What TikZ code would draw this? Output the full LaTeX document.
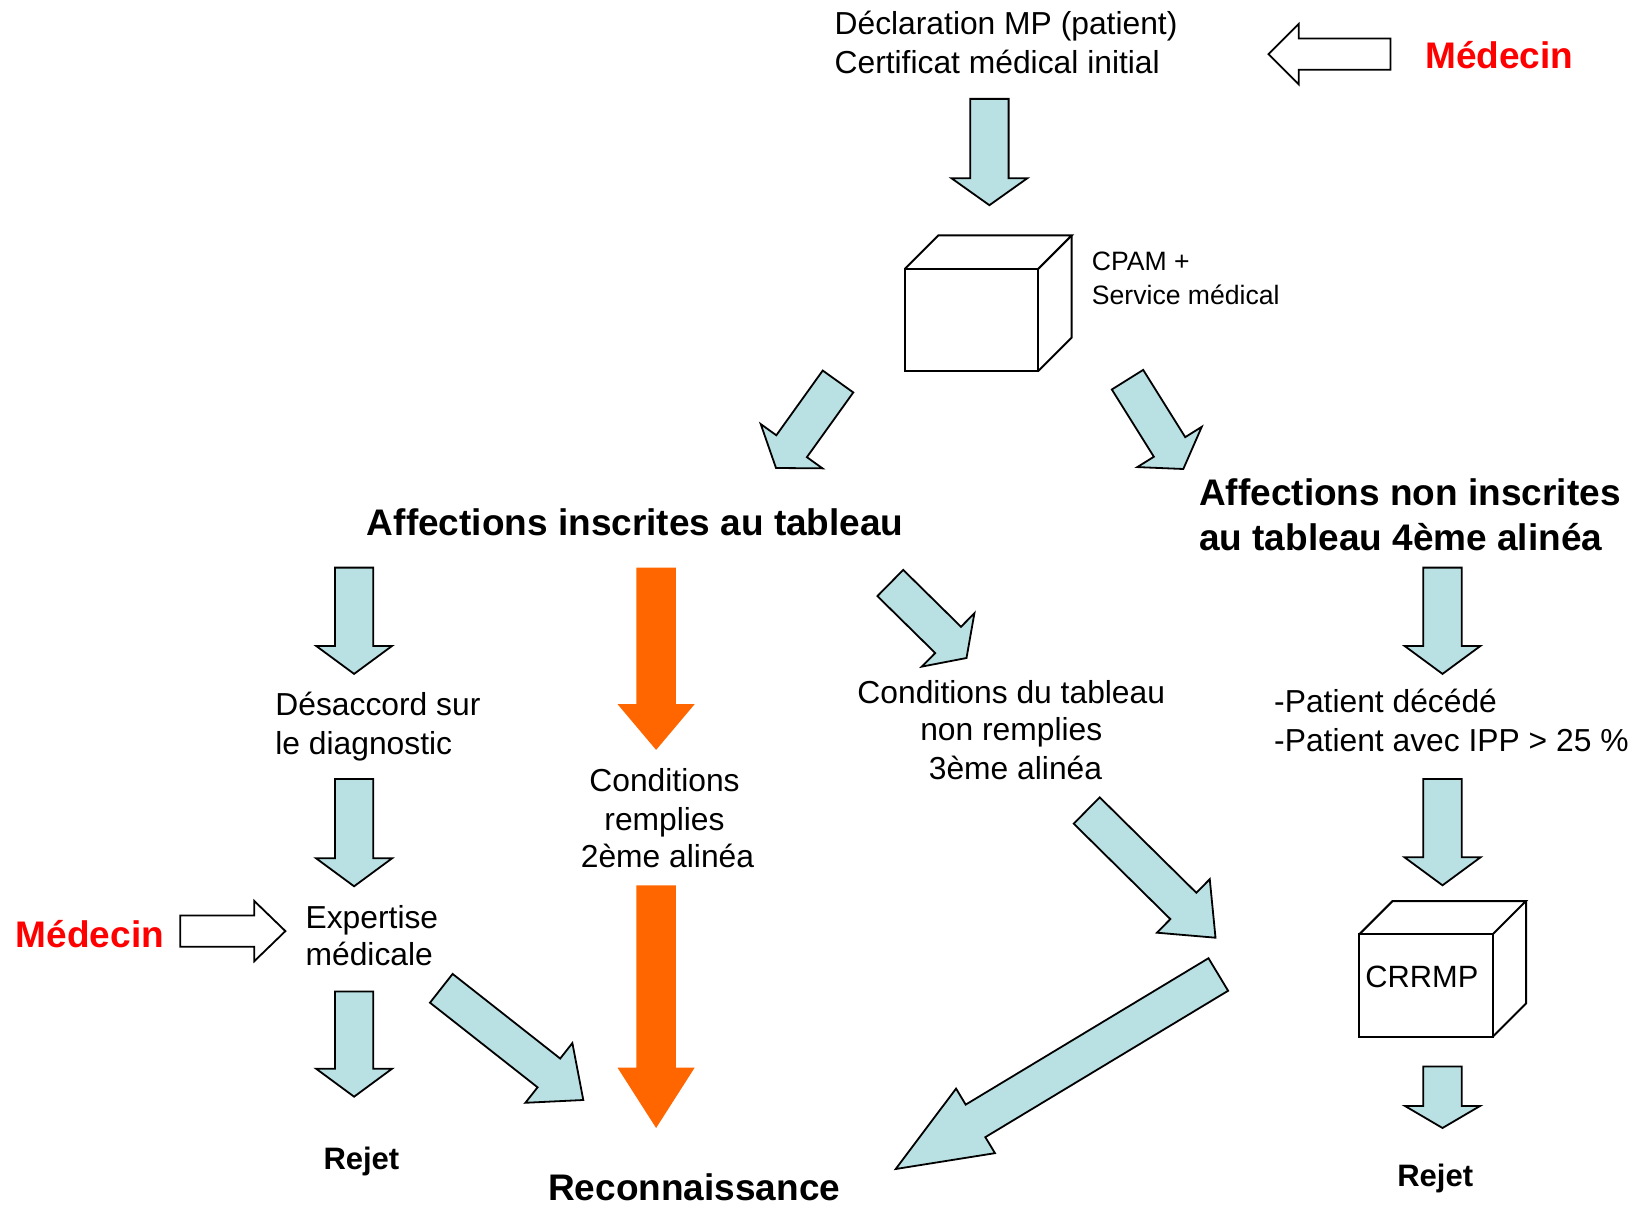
\documentclass[tikz,border=0pt]{standalone}
\usepackage{fontspec}
\setmainfont{Liberation Sans}
\usetikzlibrary{calc}
\definecolor{lblue}{HTML}{B9E0E3}
\definecolor{orng}{HTML}{FF6600}
\definecolor{medred}{HTML}{FF0000}
% #1 style, #2 tail coordinate, #3 tip coordinate, #4 shaft half width, #5 head half width, #6 head length
\newcommand\blockarrow[6]{%
  \path ($(#3)!#6!(#2)$) coordinate (hb);
  \draw[#1] ($(#2)!#4!90:(#3)$) -- ($(hb)!#4!-90:(#2)$) -- ($(hb)!#5!-90:(#2)$) -- (#3)
    -- ($(hb)!#5!90:(#2)$) -- ($(hb)!#4!90:(#2)$) -- ($(#2)!#4!-90:(#3)$) -- cycle;
}
% #1 name, #2 left x, #3 top y, #4 right x, #5 bottom y, #6 depth
\newcommand\cubebox[6]{%
  \coordinate (#1) at (#2,#3);
  \draw[cubeline] (#2,#3) rectangle (#4,#5);
  \draw[cubeline] (#2,#3) -- ++(#6,-#6) -- (#4+#6,#3-#6) -- (#4,#3);
  \draw[cubeline] (#4+#6,#3-#6) -- (#4+#6,#5-#6) -- (#4,#5);
}
\tikzset{
  barrow/.style={fill=lblue, draw=black, line width=0.9pt, line join=miter},
  oarrow/.style={fill=orng, draw=none},
  warrow/.style={fill=white, draw=black, line width=0.9pt, line join=miter},
  cubeline/.style={draw=black, line width=1pt, line join=miter},
  txt/.style={inner sep=0pt, font=\fontsize{15.9}{19}\selectfont},
  smalltxt/.style={inner sep=0pt, font=\fontsize{13.3}{16}\selectfont},
  headtxt/.style={inner sep=0pt, font=\fontsize{18.5}{22}\selectfont\bfseries},
  redtxt/.style={inner sep=0pt, text=medred, font=\fontsize{18.5}{22}\selectfont\bfseries},
  rejtxt/.style={inner sep=0pt, font=\fontsize{15.5}{19}\selectfont\bfseries},
}
\begin{document}
\begin{tikzpicture}[x=0.5pt, y=-0.5pt]
\useasboundingbox (0,0) rectangle (1633,1208);

% ---------- texts ----------
\node[txt, anchor=base west] (decl1) at (834.2,34.4) {Déclaration MP (patient)};
\node[txt, anchor=base west] (decl2) at (834.2,73.9) {Certificat médical initial};
\node[redtxt, anchor=base west] (med1) at (1424.8,68.2) {Médecin};
\node[smalltxt, anchor=base west] (cpam1) at (1091.5,271) {CPAM +};
\node[smalltxt, anchor=base west] (cpam2) at (1091.5,304.3) {Service médical};
\node[headtxt, anchor=base] (aff) at (635.3,535) {Affections inscrites au tableau};
\node[headtxt, anchor=base west] (affn1) at (1198.8,505.9) {Affections non inscrites};
\node[headtxt, anchor=base west] (affn2) at (1198.8,550.6) {au tableau 4ème alinéa};
\node[txt, anchor=base west] (des1) at (275,715.5) {Désaccord sur};
\node[txt, anchor=base west] (des2) at (275,754) {le diagnostic};
\node[txt, anchor=base] (cond1) at (664.5,791.5) {Conditions};
\node[txt, anchor=base] (cond2) at (664.5,830) {remplies};
\node[txt, anchor=base] (cond3) at (667.5,867.6) {2ème alinéa};
\node[txt, anchor=base] (ct1) at (1011.3,703) {Conditions du tableau};
\node[txt, anchor=base] (ct2) at (1011.3,740.5) {non remplies};
\node[txt, anchor=base] (ct3) at (1015.5,779) {3ème alinéa};
\node[txt, anchor=base west] (pat1) at (1273.8,712.4) {-Patient décédé};
\node[txt, anchor=base west] (pat2) at (1273.8,751) {-Patient avec IPP > 25 \%};
\node[txt, anchor=base west] (exp1) at (305.2,928) {Expertise};
\node[txt, anchor=base west] (exp2) at (305.2,965.5) {médicale};
\node[redtxt, anchor=base west] (med2) at (15.6,947.3) {Médecin};
\node[rejtxt, anchor=base] (rej1) at (361.4,1169.6) {Rejet};
\node[headtxt, anchor=base] (rec) at (694.2,1200.5) {Reconnaissance};
\node[rejtxt, anchor=base] (rej2) at (1435.2,1186.3) {Rejet};

% ---------- cubes ----------
\cubebox{cpam}{905}{268.7}{1038.4}{370.8}{33.3}
\cubebox{crrmpbox}{1359.3}{934.3}{1492.7}{1036.7}{33.3}
\node[txt, font=\fontsize{15.4}{19}\selectfont, anchor=base west] (crrmp) at (1365,987.8) {CRRMP};

% ---------- arrow end points ----------
\coordinate (wt1) at (1390.4,54.2);   \coordinate (wh1) at (1268.5,54.2);
\coordinate (wt2) at (180.2,931.1);   \coordinate (wh2) at (285.4,931.1);
\coordinate (a1t) at (989.4,98.9);    \coordinate (a1h) at (989.4,205.2);
\coordinate (dlt) at (838,381.5);     \coordinate (dlh) at (776,468);
\coordinate (drt) at (1127.5,379.7);  \coordinate (drh) at (1183.3,469);
\coordinate (lat) at (354.1,567.6);   \coordinate (lah) at (354.1,673.9);
\coordinate (lbt) at (354.1,779);     \coordinate (lbh) at (354.1,886.3);
\coordinate (lct) at (354.1,991.5);   \coordinate (lch) at (354.1,1096.7);
\coordinate (dmt) at (890.3,583);     \coordinate (dmh) at (966.5,658);
\coordinate (rat) at (1442.5,567.6);  \coordinate (rah) at (1442.5,673.9);
\coordinate (rbt) at (1442.5,779);    \coordinate (rbh) at (1442.5,885.3);
\coordinate (rct) at (1442.5,1066.5); \coordinate (rch) at (1442.5,1128);
\coordinate (b1t) at (1086.7,810.5);  \coordinate (b1h) at (1215.5,937.7);
\coordinate (b2t) at (1218.3,974.5);  \coordinate (b2h) at (895.7,1169);
\coordinate (ext) at (441.3,988.3);   \coordinate (exh) at (583.3,1100);
\coordinate (o1t) at (656.1,567.6);   \coordinate (o1h) at (656.1,749.9);
\coordinate (o2t) at (656.1,885.3);   \coordinate (o2h) at (656.1,1128);

% ---------- arrows ----------
\blockarrow{warrow}{wt1}{wh1}{7.8pt}{15.1pt}{15.1pt}
\blockarrow{warrow}{wt2}{wh2}{7.8pt}{15.1pt}{15.6pt}
\blockarrow{barrow}{a1t}{a1h}{9.6pt}{19pt}{13.5pt}
\blockarrow{barrow}{dlt}{dlh}{9.4pt}{19pt}{13.4pt}
\blockarrow{barrow}{drt}{drh}{9.25pt}{19pt}{13pt}
\blockarrow{barrow}{lat}{lah}{9.6pt}{19pt}{14pt}
\blockarrow{barrow}{lbt}{lbh}{9.6pt}{19pt}{14pt}
\blockarrow{barrow}{lct}{lch}{9.6pt}{19pt}{14pt}
\blockarrow{barrow}{dmt}{dmh}{9.2pt}{18.75pt}{12.9pt}
\blockarrow{barrow}{rat}{rah}{9.6pt}{19pt}{14pt}
\blockarrow{barrow}{rbt}{rbh}{9.6pt}{19pt}{14pt}
\blockarrow{barrow}{rct}{rch}{9.6pt}{18.75pt}{11pt}
\blockarrow{barrow}{b1t}{b1h}{9.25pt}{18.8pt}{22.6pt}
\blockarrow{barrow}{b2t}{b2h}{9.5pt}{18.85pt}{46.6pt}
\blockarrow{barrow}{ext}{exh}{9.15pt}{19pt}{21.9pt}
\blockarrow{oarrow}{o1t}{o1h}{9.9pt}{19.3pt}{22.9pt}
\blockarrow{oarrow}{o2t}{o2h}{9.9pt}{19.3pt}{30.2pt}
\end{tikzpicture}
\end{document}
